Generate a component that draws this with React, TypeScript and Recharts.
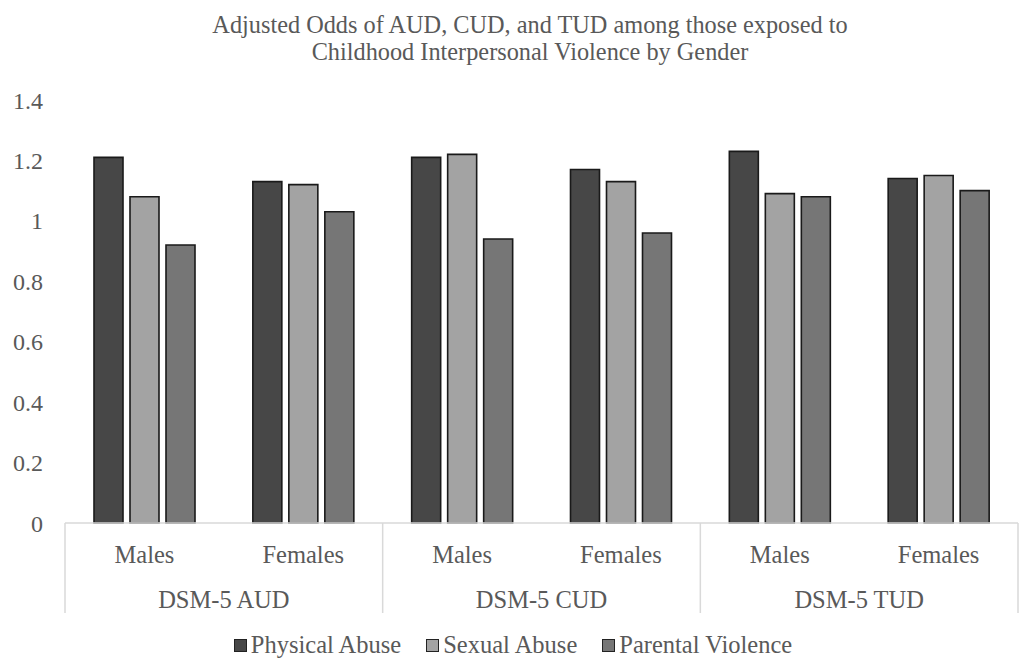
import React from 'react';
import { BarChart, Bar, XAxis, YAxis, Legend } from 'recharts';

// adjusted odds
const groups = ['DSM-5 AUD', 'DSM-5 CUD', 'DSM-5 TUD'];
const genders = ['Males', 'Females'];
const physicalAbuse = [1.21, 1.13, 1.21, 1.17, 1.23, 1.14];
const sexualAbuse = [1.08, 1.12, 1.22, 1.13, 1.09, 1.15];
const parentalViolence = [0.92, 1.03, 0.94, 0.96, 1.08, 1.1];
const yTicks = [0, 0.2, 0.4, 0.6, 0.8, 1, 1.2, 1.4];

const series = [
  { key: 'physical', name: 'Physical Abuse', color: '#474747' },
  { key: 'sexual', name: 'Sexual Abuse', color: '#a3a3a3' },
  { key: 'parental', name: 'Parental Violence', color: '#767676' },
];

const data = physicalAbuse.map((v, i) => ({
  id: groups[Math.floor(i / 2)] + ' ' + genders[i % 2],
  gender: genders[i % 2],
  group: groups[Math.floor(i / 2)],
  physical: v,
  sexual: sexualAbuse[i],
  parental: parentalViolence[i],
}));

const W = 1020;
const H = 658;
const LEFT = 65;
const RIGHT = 2;
const band = (W - LEFT - RIGHT) / data.length;
const font = '"Liberation Serif", serif';
const textColor = '#595959';
const lineColor = '#d9d9d9';

function CategoryTick(props: any) {
  const { x, y, index } = props;
  const d = data[index];
  if (!d) return null;
  const left = x - band / 2;
  return (
    <g>
      <text x={x} y={y + 40} textAnchor="middle" fill={textColor} fontSize={24.5} fontFamily={font}>
        {d.gender}
      </text>
      {index % 2 === 0 && (
        <>
          <line x1={left} y1={y} x2={left} y2={y + 90} stroke={lineColor} strokeWidth={1.5} />
          <text x={x + band / 2} y={y + 85} textAnchor="middle" fill={textColor} fontSize={24.5} fontFamily={font}>
            {d.group}
          </text>
        </>
      )}
      {index === data.length - 1 && (
        <line x1={x + band / 2} y1={y} x2={x + band / 2} y2={y + 90} stroke={lineColor} strokeWidth={1.5} />
      )}
    </g>
  );
}

function LegendContent() {
  return (
    <div
      style={{
        display: 'flex',
        justifyContent: 'center',
        alignItems: 'center',
        height: 30,
        lineHeight: '26px',
        boxSizing: 'border-box',
        paddingTop: 4,
        paddingLeft: 8,
        fontFamily: font,
        fontSize: 24.5,
        color: textColor,
        whiteSpace: 'nowrap',
      }}
    >
      {series.map((s, i) => (
        <div key={s.key} style={{ display: 'flex', alignItems: 'center', marginLeft: i === 0 ? 0 : 25 }}>
          <span
            style={{
              display: 'inline-block',
              width: 11,
              height: 11,
              background: s.color,
              border: '1.5px solid #222',
              marginRight: 4,
            }}
          />
          <span>{s.name}</span>
        </div>
      ))}
    </div>
  );
}

export default function App() {
  return (
    <div style={{ position: 'absolute', left: 0, top: 0, width: W, height: H, background: '#fff' }}>
      <svg width={W} height={70} style={{ position: 'absolute', left: 0, top: 0 }}>
        <text x={530} y={33} textAnchor="middle" fill={textColor} fontSize={24.3} fontFamily={font}>
          Adjusted Odds of AUD, CUD, and TUD among those exposed to
        </text>
        <text x={530} y={60} textAnchor="middle" fill={textColor} fontSize={24.3} fontFamily={font}>
          Childhood Interpersonal Violence by Gender
        </text>
      </svg>
      <BarChart
        width={W}
        height={H}
        data={data}
        margin={{ top: 100, right: RIGHT, bottom: 0, left: 0 }}
        barSize={29}
        barGap={7}
      >
        <XAxis
          dataKey="id"
          height={105}
          tick={<CategoryTick />}
          tickLine={false}
          tickSize={0}
          tickMargin={0}
          interval={0}
          axisLine={{ stroke: lineColor, strokeWidth: 1.5 }}
        />
        <YAxis
          width={LEFT}
          domain={[0, 1.4]}
          ticks={yTicks}
          axisLine={false}
          tickLine={false}
          tickSize={0}
          tickMargin={22}
          tick={{ fill: textColor, fontSize: 24, fontFamily: font }}
        />
        <Legend verticalAlign="bottom" height={30} content={<LegendContent />} />
        {series.map((s) => (
          <Bar
            key={s.key}
            dataKey={s.key}
            name={s.name}
            fill={s.color}
            stroke="#1a1a1a"
            strokeWidth={1.6}
            isAnimationActive={false}
          />
        ))}
      </BarChart>
    </div>
  );
}
